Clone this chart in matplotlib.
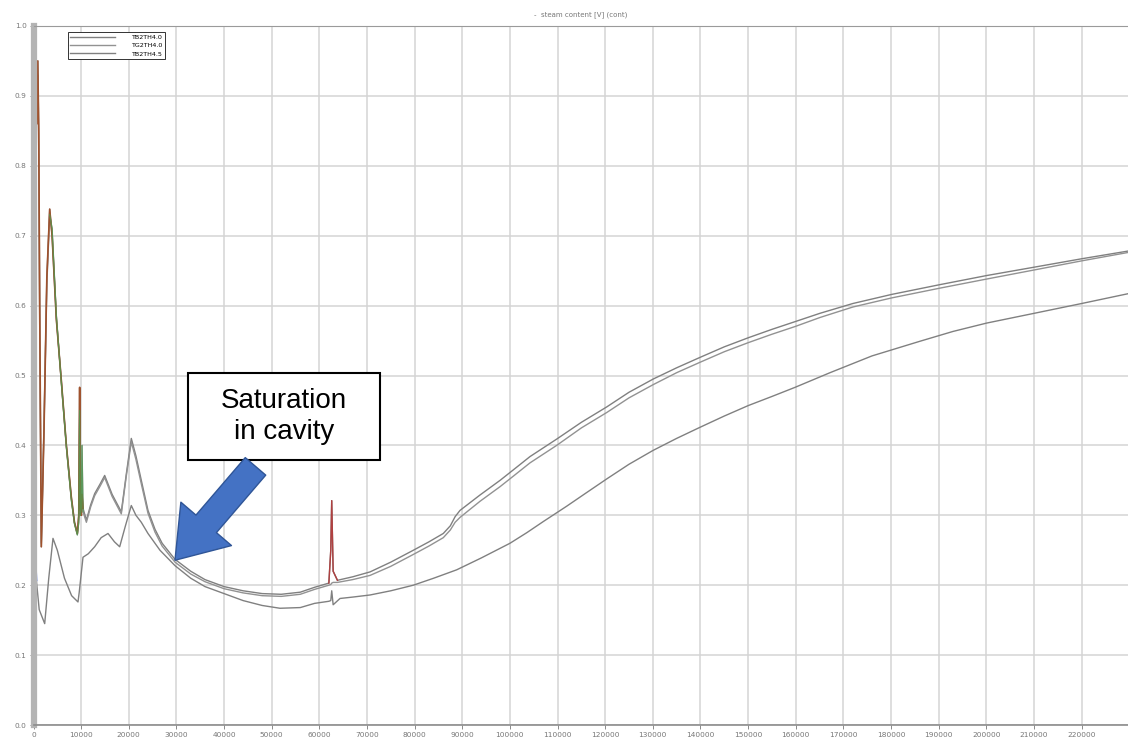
import matplotlib

matplotlib.use("Agg")
import matplotlib.pyplot as plt
from matplotlib.patches import Rectangle

# upper pair of runs (nearly coincident)
x_upper = [0, 400, 700, 900, 1100, 1300, 1640, 2200, 2800, 3400, 3900, 4800,
           5840, 6900, 7940, 8600, 9200, 9500, 9690, 9850, 10050, 10180, 10400,
           11100, 12000, 12840, 14000, 14940, 16500, 18430, 19500, 20530, 21500,
           22630, 24030, 25500, 27000, 29700, 33000, 36000, 40000, 44000, 48000,
           52000, 56000, 59000, 62000, 62400, 62600, 62900, 63800, 67000, 70640,
           75000, 79730, 83000, 86020, 87500, 88500, 89530, 93720, 97940, 100720,
           104220, 109820, 115000, 120320, 125000, 130100, 135000, 139940, 145000,
           150040, 155000, 159840, 165100, 172000, 180140, 190280, 200080, 210080,
           220030, 229750]
run_a = [0.98, 1.0, 0.86, 0.95, 0.85, 0.6, 0.255, 0.42, 0.64, 0.738, 0.70, 0.58,
         0.493, 0.40, 0.326, 0.29, 0.274, 0.30, 0.483, 0.31, 0.30, 0.33, 0.31,
         0.293, 0.315, 0.331, 0.345, 0.357, 0.33, 0.305, 0.36, 0.41, 0.385,
         0.35, 0.307, 0.28, 0.26, 0.237, 0.22, 0.208, 0.198, 0.192, 0.188,
         0.187, 0.19, 0.197, 0.203, 0.25, 0.321, 0.22, 0.207, 0.212, 0.219,
         0.233, 0.25, 0.262, 0.274, 0.285, 0.298, 0.307, 0.329, 0.35, 0.365,
         0.384, 0.409, 0.433, 0.455, 0.476, 0.495, 0.511, 0.526, 0.541,
         0.554, 0.566, 0.577, 0.589, 0.603, 0.616, 0.630, 0.643, 0.655,
         0.667, 0.678]
run_b = [0.98, 0.99, 0.88, 0.93, 0.82, 0.57, 0.26, 0.43, 0.63, 0.73, 0.71, 0.585,
         0.49, 0.398, 0.322, 0.288, 0.272, 0.29, 0.45, 0.30, 0.31, 0.40, 0.305,
         0.29, 0.312, 0.328, 0.342, 0.354, 0.327, 0.302, 0.357, 0.405, 0.38,
         0.345, 0.303, 0.276, 0.256, 0.233, 0.216, 0.205, 0.195, 0.189, 0.185,
         0.184, 0.187, 0.194, 0.2, 0.201, 0.203, 0.204, 0.204, 0.208, 0.214,
         0.227, 0.244, 0.256, 0.268, 0.279, 0.29, 0.297, 0.32, 0.341, 0.356,
         0.375, 0.400, 0.425, 0.447, 0.468, 0.487, 0.504, 0.519, 0.534,
         0.547, 0.559, 0.570, 0.583, 0.598, 0.611, 0.625, 0.638, 0.651,
         0.664, 0.676]

# lower run
x_lower = [0, 80, 300, 600, 1200, 2350, 3200, 4090, 5000, 6500, 8000, 9340, 9600,
           10390, 11500, 12840, 14200, 15640, 17000, 18090, 19300, 20530, 21500,
           22630, 24030, 26550, 29700, 33000, 36000, 40000, 44000, 48000, 51740,
           56000, 59000, 62000, 62400, 62600, 62900, 64340, 67000, 70640, 75000,
           79730, 84000, 88830, 94000, 100020, 103520, 107000, 111920, 116000,
           120320, 125000, 130100, 135000, 139940, 145000, 150040, 155000,
           159840, 167190, 176000, 186080, 193000, 200080, 210080, 220030, 229750]
run_c = [0.27, 0.289, 0.26, 0.207, 0.165, 0.145, 0.21, 0.267, 0.25, 0.21, 0.185,
         0.176, 0.19, 0.24, 0.245, 0.255, 0.268, 0.274, 0.262, 0.255, 0.285,
         0.314, 0.30, 0.29, 0.274, 0.25, 0.228, 0.21, 0.198, 0.188, 0.178,
         0.171, 0.167, 0.168, 0.174, 0.177, 0.178, 0.192, 0.172, 0.181, 0.183,
         0.186, 0.192, 0.2, 0.21, 0.222, 0.239, 0.26, 0.275, 0.291, 0.313,
         0.332, 0.352, 0.373, 0.393, 0.41, 0.426, 0.442, 0.457, 0.47, 0.483,
         0.504, 0.528, 0.549, 0.563, 0.575, 0.589, 0.603, 0.617]

run_labels = ["TB2TH4.0", "TG2TH4.0", "TB2TH4.5"]

x_ticks = list(range(0, 230000, 10000))
y_ticks = [0.0, 0.1, 0.2, 0.3, 0.4, 0.5, 0.6, 0.7, 0.8, 0.9, 1.0]


def head(xs, ys, x_max):
    n = sum(1 for v in xs if v <= x_max)
    return xs[:n], ys[:n]


fig = plt.figure(figsize=(11.28, 7.4), dpi=100)
ax = fig.add_axes([33.5 / 1128, 15 / 740, 1 - 33.5 / 1128, 699 / 740])

ax.plot(x_upper, run_a, color="#808080", lw=1.0, label=run_labels[0])
ax.plot(x_upper, run_b, color="#929292", lw=1.0, label=run_labels[1])
ax.plot(x_lower, run_c, color="#808080", lw=1.0, label=run_labels[2])

# early transient colouring
xa, ya = head(x_upper, run_a, 10500)
ax.plot(xa, ya, color="#a0522d", lw=1.2)
xb, yb = head(x_upper, run_b, 10500)
ax.plot(xb[9:], yb[9:], color="#4f9a4f", lw=0.9, alpha=0.8)
ax.plot(x_upper[46:51], run_a[46:51], color="#b04040", lw=1.0)
xc, yc = head(x_lower, run_c, 700)
ax.plot(xc, yc, color="#3050c0", lw=1.4)

ax.set_xlim(0, 229750)
ax.set_ylim(0, 1.0)
ax.set_xticks(x_ticks)
ax.set_xticklabels([str(v) for v in x_ticks])
ax.set_yticks(y_ticks)
ax.set_yticklabels([f"{v:.1f}" for v in y_ticks])
ax.tick_params(labelsize=5.3, colors="#777777", length=3, pad=2, width=0.6)
ax.grid(True, color="#d4d4d4", lw=1.1)
ax.set_axisbelow(True)

ax.spines["left"].set_color("#b4b4b4")
ax.spines["left"].set_linewidth(4.5)
ax.spines["bottom"].set_color("#8c8c8c")
ax.spines["bottom"].set_linewidth(1.2)
ax.spines["top"].set_color("#9a9a9a")
ax.spines["right"].set_visible(False)

ax.set_title("-  steam content [V] (cont)", fontsize=5, color="#777777", pad=7)

leg = ax.legend(loc="upper left", bbox_to_anchor=(0.0315, 0.991), borderaxespad=0,
                fontsize=4.6, fancybox=False, handlelength=7, labelspacing=0.45,
                borderpad=0.35, handletextpad=2.5, framealpha=1)
leg.get_frame().set_edgecolor("#333333")
leg.get_frame().set_linewidth(0.7)

# callout box
ax.add_patch(Rectangle((32430, 0.3786), 72730 - 32430, 0.503 - 0.3786,
                       facecolor="white", edgecolor="black", lw=1.5, zorder=5))
ax.text(52580, 0.441, "Saturation\nin cavity", ha="center", va="center",
        fontsize=20, family="Liberation Sans", linespacing=1.25, zorder=6)

ax.annotate("", xy=(29700, 0.2357), xytext=(46600, 0.370),
            arrowprops=dict(arrowstyle="simple,head_length=34.5,head_width=48,tail_width=19.4",
                            mutation_scale=1, shrinkA=0, shrinkB=0,
                            facecolor="#4472c4", edgecolor="#2f5597", lw=1.0),
            zorder=7)

fig.savefig("out.png", dpi=100)
